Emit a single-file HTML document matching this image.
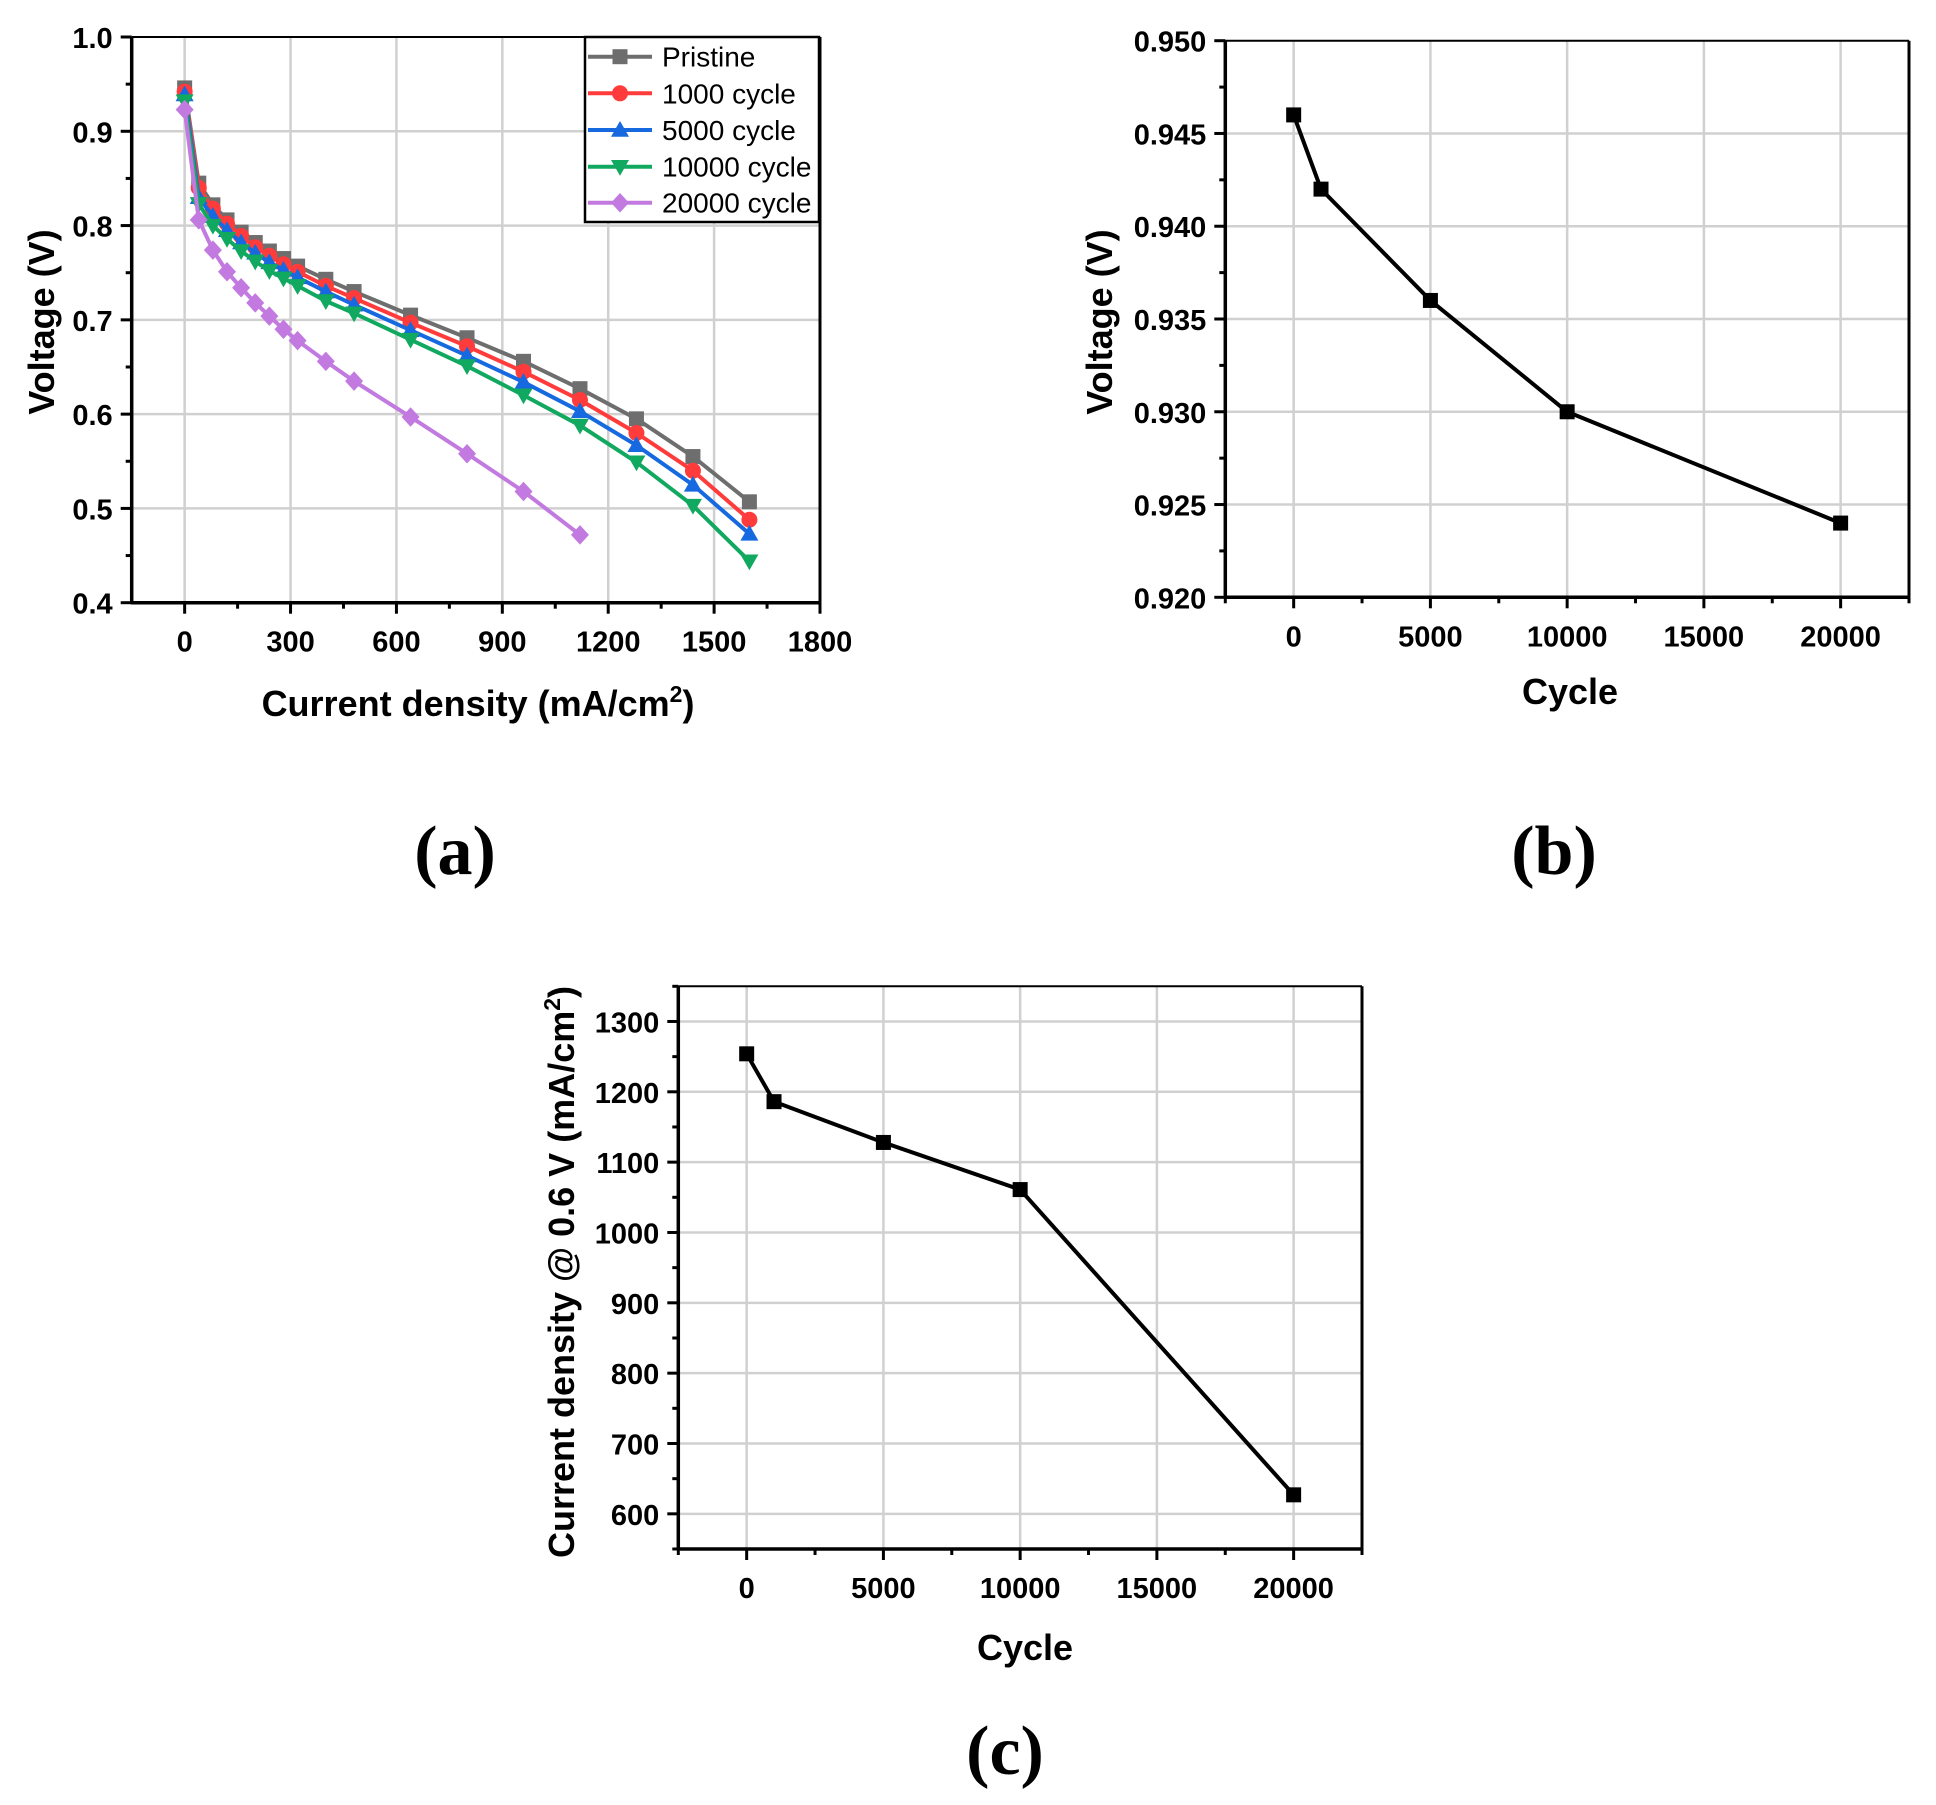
<!DOCTYPE html>
<html><head><meta charset="utf-8"><style>
html,body{margin:0;padding:0;background:#fff;}
svg{display:block;font-family:"Liberation Sans",Arial,sans-serif;}
</style></head><body>
<svg id="fig" width="1936" height="1805" viewBox="0 0 1936 1805" xmlns="http://www.w3.org/2000/svg"></svg>
<script>
// ---- Panel (a) data ----
const aX = [0,40,80,120,160,200,240,280,320,400,480,640,800,960,1120,1280,1440,1600];
const aPristine = [0.946,0.845,0.822,0.806,0.793,0.782,0.773,0.765,0.757,0.743,0.730,0.705,0.681,0.656,0.627,0.595,0.555,0.507];
const a1000 = [0.942,0.840,0.818,0.802,0.789,0.777,0.768,0.759,0.751,0.736,0.723,0.697,0.672,0.645,0.615,0.580,0.540,0.488];
const a5000 = [0.939,0.830,0.810,0.795,0.782,0.771,0.761,0.753,0.745,0.730,0.716,0.689,0.662,0.634,0.603,0.567,0.525,0.473];
const a10000 = [0.932,0.823,0.800,0.786,0.773,0.762,0.752,0.744,0.736,0.720,0.707,0.679,0.651,0.620,0.588,0.549,0.503,0.444];
const a20000X = [0,40,80,120,160,200,240,280,320,400,480,640,800,960,1120];
const a20000 = [0.923,0.806,0.774,0.751,0.734,0.718,0.704,0.690,0.678,0.656,0.635,0.597,0.558,0.518,0.472];
const aXTicks = [0,300,600,900,1200,1500,1800];
const aYTicks = [0.4,0.5,0.6,0.7,0.8,0.9,1.0];
const aSeriesNames = ["Pristine","1000 cycle","5000 cycle","10000 cycle","20000 cycle"];
// ---- Panel (b) data ----
const bCycles = [0,1000,5000,10000,20000];
const bVoltage = [0.946,0.942,0.936,0.930,0.924];
const bXTicks = [0,5000,10000,15000,20000];
const bYTicks = [0.920,0.925,0.930,0.935,0.940,0.945,0.950];
// ---- Panel (c) data ----
const cCycles = [0,1000,5000,10000,20000];
const cCurrent = [1254,1186,1128,1061,627];
const cXTicks = [0,5000,10000,15000,20000];
const cYTicks = [600,700,800,900,1000,1100,1200,1300];

const NS="http://www.w3.org/2000/svg";
const svg=document.getElementById('fig');
function mk(tag,attrs,parent){const e=document.createElementNS(NS,tag);for(const k in attrs)e.setAttribute(k,attrs[k]);(parent||svg).appendChild(e);return e;}
function lin(d0,d1,p0,p1){return v=>p0+(v-d0)*(p1-p0)/(d1-d0);}

function axes(g,L,R,T,B,sx,sy,xTicks,xMinor,yTicks,yMinor,xFmt,yFmt){
  xTicks.forEach(v=>{const x=sx(v);if(x>L+2&&x<R-2){const l=mk('line',{x1:x,x2:x,y1:T,y2:B,stroke:'#d0d0d0','stroke-width':2.5},g);
    
    }});
  yTicks.forEach(v=>{const y=sy(v);if(y>T+2&&y<B-2){const l=mk('line',{x1:L,x2:R,y1:y,y2:y,stroke:'#d0d0d0','stroke-width':2.5},g);
    
    }});
  mk('line',{x1:L,x2:R,y1:T,y2:T,stroke:'#000','stroke-width':2},g);
  mk('line',{x1:R,x2:R,y1:T,y2:B,stroke:'#000','stroke-width':3},g);
  const xa=mk('line',{x1:L-1,x2:R+1,y1:B,y2:B,stroke:'#000','stroke-width':3.5},g);
  
  
  const ya=mk('line',{x1:L,x2:L,y1:T,y2:B+1,stroke:'#000','stroke-width':3.5},g);
  
  
  xMinor.forEach(v=>{const x=sx(v);mk('line',{x1:x,x2:x,y1:B,y2:B+6,stroke:'#000','stroke-width':3},g);});
  yMinor.forEach(v=>{const y=sy(v);mk('line',{x1:L,x2:L-6,y1:y,y2:y,stroke:'#000','stroke-width':3},g);});
  xTicks.forEach(v=>{const x=sx(v);mk('line',{x1:x,x2:x,y1:B,y2:B+11,stroke:'#000','stroke-width':3},g);
    const t=mk('text',{x:x,y:B+49,'text-anchor':'middle','font-size':29,'font-weight':'bold'},g);t.textContent=xFmt(v);
    
    });
  yTicks.forEach(v=>{const y=sy(v);mk('line',{x1:L,x2:L-11,y1:y,y2:y,stroke:'#000','stroke-width':3},g);
    const t=mk('text',{x:L-19,y:y+11,'text-anchor':'end','font-size':29,'font-weight':'bold'},g);t.textContent=yFmt(v);
    
    });
}
function marker(g,type,x,y,c,s){
  if(type==='square')return mk('rect',{x:x-s/2,y:y-s/2,width:s,height:s,fill:c},g);
  if(type==='circle')return mk('circle',{cx:x,cy:y,r:s/2+0.5,fill:c},g);
  if(type==='up')return mk('polygon',{points:`${x},${y-s*0.6} ${x-s*0.6},${y+s*0.45} ${x+s*0.6},${y+s*0.45}`,fill:c},g);
  if(type==='down')return mk('polygon',{points:`${x},${y+s*0.6} ${x-s*0.6},${y-s*0.45} ${x+s*0.6},${y-s*0.45}`,fill:c},g);
  if(type==='diamond')return mk('polygon',{points:`${x},${y-s*0.65} ${x+s*0.6},${y} ${x},${y+s*0.65} ${x-s*0.6},${y}`,fill:c},g);
}
function series(g,xs,ys,sx,sy,color,type,name,ms){
  const sg=mk('g',{},g);
  
  
  mk('polyline',{points:xs.map((x,i)=>sx(x)+','+sy(ys[i])).join(' '),fill:'none',stroke:color,'stroke-width':4,'stroke-linejoin':'round'},sg);
  xs.forEach((x,i)=>{const m=marker(sg,type,sx(x),sy(ys[i]),color,ms);
    
    });
}
function range(a,b,s){const r=[];for(let v=a;v<=b+1e-9;v+=s)r.push(+v.toFixed(6));return r;}

// ---- Panel a ----
{
  const g=mk('g',{});
  
  
  const L=131.7,R=820,T=37,B=602.7;
  const sx=lin(-150,1800,L,R), sy=lin(0.4,1.0,B,T);
  axes(g,L,R,T,B,sx,sy,aXTicks,range(150,1650,300),aYTicks,range(0.45,0.95,0.1),v=>String(v),v=>v.toFixed(1));
  const cols=['#6e6e6e','#ff3b3b','#1769e0','#11a860','#c27ae0'];
  const types=['square','circle','up','down','diamond'];
  const ys=[aPristine,a1000,a5000,a10000,a20000];
  const xs=[aX,aX,aX,aX,a20000X];
  [0,1,2,3,4].forEach(i=>series(g,xs[i],ys[i],sx,sy,cols[i],types[i],'series-'+aSeriesNames[i].replace(' ','-').toLowerCase(),15));
  const lg=mk('g',{},g);
  
  
  mk('rect',{x:585,y:37,width:234,height:185,fill:'#fff',stroke:'#000','stroke-width':2.5},lg);
  const rows=[56.7,93.3,130,166.7,202.7];
  rows.forEach((y,i)=>{
    const e=mk('g',{},lg);
    
    
    mk('line',{x1:588,x2:652,y1:y,y2:y,stroke:cols[i],'stroke-width':4},e);
    marker(e,types[i],620,y,cols[i],15);
    const t=mk('text',{x:662,y:y+10,'font-size':28},e);t.textContent=aSeriesNames[i];
  });
  const xt=mk('text',{x:478,y:716,'text-anchor':'middle','font-size':36,'font-weight':'bold'},g);
  xt.innerHTML='Current density (mA/cm<tspan dy="-14" font-size="23">2</tspan><tspan dy="14">)</tspan>';
  
  
  const yt=mk('text',{x:0,y:0,'text-anchor':'middle','font-size':36,'font-weight':'bold',transform:'translate(54,322) rotate(-90)'},g);
  yt.textContent='Voltage (V)';
  
  
  const pl=mk('text',{x:455,y:874,'text-anchor':'middle','font-size':70,'font-weight':'bold','font-family':'"Liberation Serif",serif'},g);
  pl.textContent='(a)';
  
  
}
// ---- Panel b ----
{
  const g=mk('g',{});
  
  
  const L=1225.3,R=1909,T=40.7,B=597.3;
  const sx=lin(-2500,22500,L,R), sy=lin(0.920,0.950,B,T);
  axes(g,L,R,T,B,sx,sy,bXTicks,range(-2500,22500,5000),bYTicks,range(0.9225,0.9475,0.005),v=>String(v),v=>v.toFixed(3));
  series(g,bCycles,bVoltage,sx,sy,'#000','square','series-ocv',15);
  const xt=mk('text',{x:1570,y:704,'text-anchor':'middle','font-size':36,'font-weight':'bold'},g);
  xt.textContent='Cycle';
  
  
  const yt=mk('text',{x:0,y:0,'text-anchor':'middle','font-size':36,'font-weight':'bold',transform:'translate(1112,322) rotate(-90)'},g);
  yt.textContent='Voltage (V)';
  
  
  const pl=mk('text',{x:1554,y:874,'text-anchor':'middle','font-size':70,'font-weight':'bold','font-family':'"Liberation Serif",serif'},g);
  pl.textContent='(b)';
  
  
}
// ---- Panel c ----
{
  const g=mk('g',{});
  
  
  const L=678.3,R=1362,T=986.3,B=1549;
  const sx=lin(-2500,22500,L,R), sy=lin(550,1350,B,T);
  axes(g,L,R,T,B,sx,sy,cXTicks,range(-2500,22500,5000),cYTicks,range(550,1350,100),v=>String(v),v=>String(v));
  series(g,cCycles,cCurrent,sx,sy,'#000','square','series-current-density',15);
  const xt=mk('text',{x:1025,y:1660,'text-anchor':'middle','font-size':36,'font-weight':'bold'},g);
  xt.textContent='Cycle';
  
  
  const yt=mk('text',{x:0,y:0,'text-anchor':'middle','font-size':36,'font-weight':'bold',transform:'translate(574,1272) rotate(-90)'},g);
  yt.innerHTML='Current density @ 0.6 V (mA/cm<tspan dy="-14" font-size="23">2</tspan><tspan dy="14">)</tspan>';
  
  
  const pl=mk('text',{x:1005,y:1774,'text-anchor':'middle','font-size':70,'font-weight':'bold','font-family':'"Liberation Serif",serif'},g);
  pl.textContent='(c)';
  
  
}
</script>
</body></html>
